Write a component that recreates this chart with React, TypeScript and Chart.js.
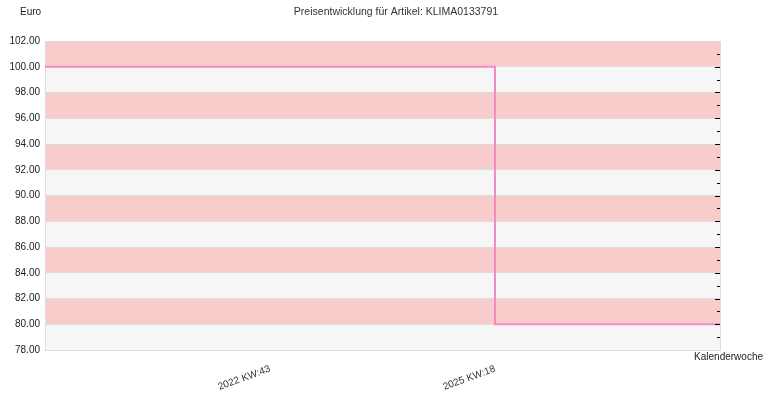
import { useEffect, useRef } from "react";
import { Chart, registerables, Plugin } from "chart.js";

Chart.register(...registerables);

// price history (step line)
const weeks = ["", "2022 KW:43", "2025 KW:18", ""];
const prices = [100, 100, 80, 80];

const chartTitle = "Preisentwicklung für Artikel: KLIMA0133791";
const yTitle = "Euro";
const xTitle = "Kalenderwoche";

const FONT = "'Liberation Sans', Arial, sans-serif";

// alternating background bands + right edge minor ticks + titles
const decorPlugin: Plugin = {
  id: "decor",
  beforeDraw(chart) {
    const { ctx, chartArea, scales } = chart;
    const y = scales.y;
    ctx.save();
    ctx.fillStyle = "#f6f6f6";
    ctx.fillRect(chartArea.left, chartArea.top, chartArea.width, chartArea.height);
    const min = y.min as number;
    const max = y.max as number;
    for (let v = min; v < max; v += 2) {
      if (((v - min) / 2) % 2 === 1) {
        const top = y.getPixelForValue(v + 2);
        const bottom = y.getPixelForValue(v);
        ctx.fillStyle = "#f9cccc";
        ctx.fillRect(chartArea.left, top, chartArea.width, bottom - top);
      }
    }
    ctx.restore();
  },
  afterDraw(chart) {
    const { ctx, chartArea, scales } = chart;
    const y = scales.y;
    ctx.save();
    ctx.strokeStyle = "#000";
    ctx.lineWidth = 1;
    const min = y.min as number;
    const max = y.max as number;
    for (let v = min + 1; v < max; v += 1) {
      const py = Math.round(y.getPixelForValue(v)) + 0.5;
      const len = (v - min) % 2 === 0 ? 5 : 3;
      ctx.beginPath();
      ctx.moveTo(chartArea.right - len, py);
      ctx.lineTo(chartArea.right, py);
      ctx.stroke();
    }
    ctx.fillStyle = "#222";
    ctx.font = `10px ${FONT}`;
    ctx.textBaseline = "middle";
    ctx.textAlign = "left";
    ctx.fillText(yTitle, 20, 12);
    ctx.textAlign = "right";
    ctx.fillText(xTitle, 763, 357);
    ctx.fillStyle = "#333";
    ctx.font = `10.5px ${FONT}`;
    ctx.textAlign = "center";
    ctx.fillText(chartTitle, 396, 12);
    ctx.restore();
  },
};

export default function App() {
  const canvasRef = useRef<HTMLCanvasElement>(null);

  useEffect(() => {
    document.body.style.margin = "0";
    if (!canvasRef.current) return;

    const chart = new Chart(canvasRef.current, {
      type: "line",
      data: {
        labels: weeks,
        datasets: [
          {
            data: prices,
            borderColor: "#f38bc7",
            borderWidth: 2,
            pointRadius: 0,
            stepped: "before",
            fill: false,
          },
        ],
      },
      options: {
        animation: false,
        responsive: false,
        maintainAspectRatio: false,
        layout: { padding: { top: 41, right: 50, left: 0, bottom: 0 } },
        plugins: {
          legend: { display: false },
          title: { display: false },
          tooltip: { enabled: false },
        },
        scales: {
          x: {
            offset: false,
            afterFit: (scale) => {
              scale.height = 50;
            },
            grid: { display: false, drawTicks: false },
            border: { display: true, color: "#dddddd" },
            ticks: {
              autoSkip: false,
              minRotation: 20,
              maxRotation: 20,
              padding: 13,
              color: "#333",
              font: { family: FONT, size: 10 },
            },
          },
          y: {
            min: 78,
            max: 102,
            afterFit: (scale) => {
              scale.width = 45;
            },
            grid: { color: "#dddddd", drawTicks: false },
            border: { display: true, color: "#dddddd" },
            ticks: {
              stepSize: 2,
              padding: 5,
              color: "#222",
              font: { family: FONT, size: 10 },
              callback: (v) => Number(v).toFixed(2),
            },
          },
          y2: {
            position: "right",
            min: 78,
            max: 102,
            afterFit: (scale) => {
              scale.width = 0;
            },
            grid: { display: false, drawTicks: false },
            border: { display: true, color: "#dddddd" },
            ticks: { display: false },
          },
        },
      },
      plugins: [decorPlugin],
    });

    return () => chart.destroy();
  }, []);

  return (
    <div style={{ width: 770, height: 400 }}>
      <canvas ref={canvasRef} width={770} height={400} />
    </div>
  );
}
